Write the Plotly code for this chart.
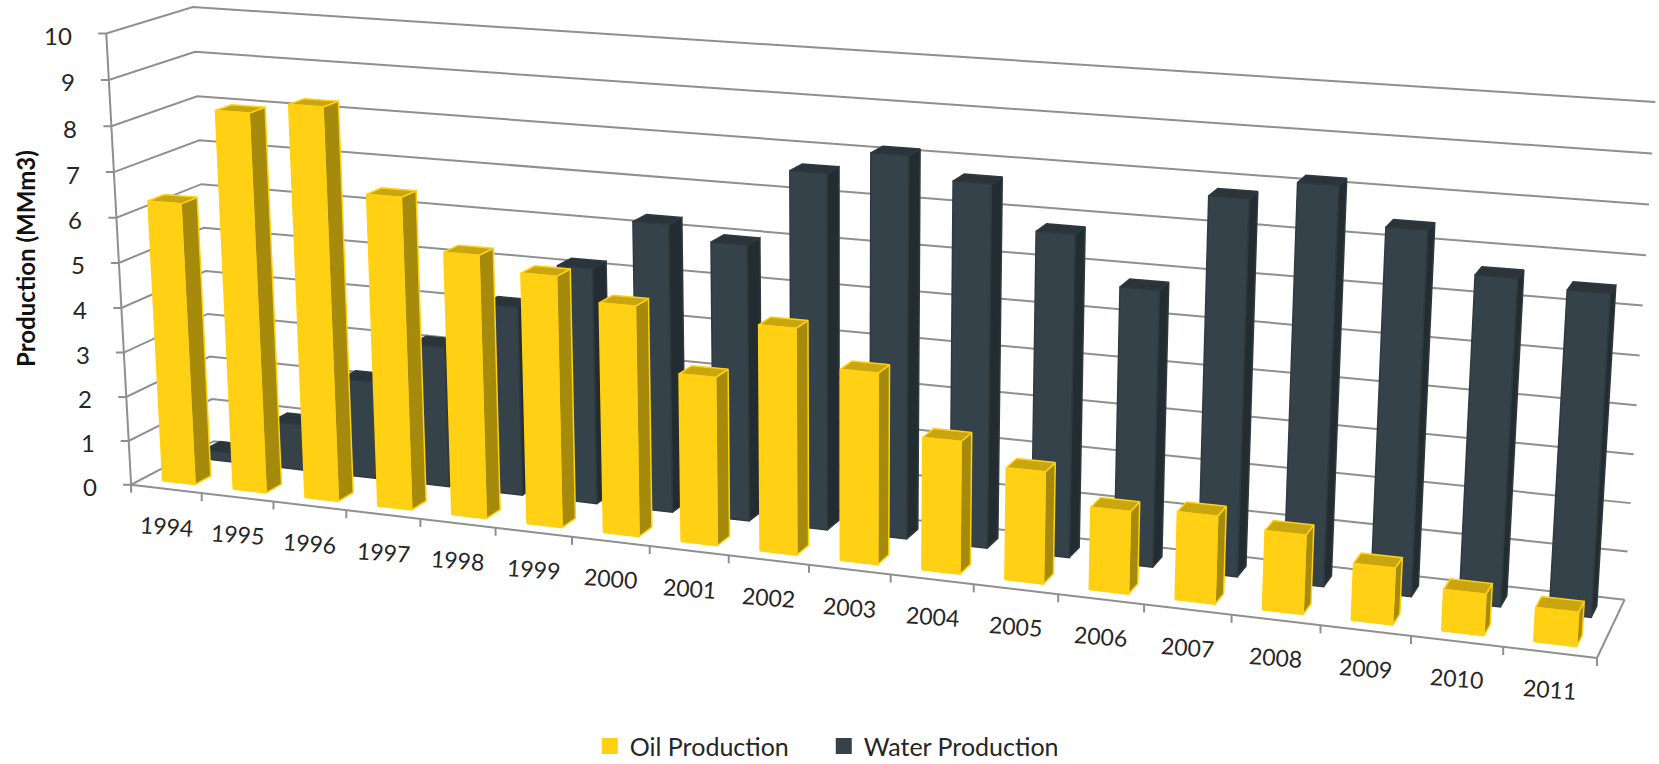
import numpy as np
import plotly.graph_objects as go

years = ["1994","1995","1996","1997","1998","1999","2000","2001","2002","2003","2004","2005","2006","2007","2008","2009","2010","2011"]
oil_production = [6.3,8.4,8.65,6.85,5.75,5.45,4.97,3.62,4.82,4.05,2.8,2.35,1.72,1.82,1.63,1.16,0.84,0.69]
water_production = [0.2,1.05,2.2,3.15,4.2,5.2,6.3,6.0,7.65,8.15,7.7,6.8,5.8,7.8,8.2,7.45,6.65,6.5]
value_ticks = [0,1,2,3,4,5,6,7,8,9,10]

OIL = dict(front="#FFD013", side="#A68A0C", top="#C9A50F", line="#FFD013")
WATER = dict(front="#36424A", side="#232D31", top="#2A343A", line="#2F3A40")
GRID = "#8F8F8F"
TEXT = "#262626"

# Camera calibration: (category, depth, value) -> page position
anchors = [
    ((0,0,0),(132,483)),((0,0,10),(106,33)),((0,0,9),(108,80)),((0,0,8),(112,126)),((0,0,7),(114,172)),
    ((0,0,6),(117,217)),((0,0,5),(119,263)),((0,0,4),(121,307)),((0,0,3),(123,352)),((0,0,2),(126,397)),((0,0,1),(129,441)),
    ((0,1,10),(193,7)),((0,1,9),(195,52)),((0,1,8),(197,97)),((0,1,7),(200,141)),((0,1,6),(202,184)),
    ((0,1,5),(203,228)),((0,1,4),(207,271)),((0,1,3),(207,314)),((0,1,2),(208,357)),((0,1,1),(212,398)),
    ((18,1,0),(1625,598)),((18,1,10),(1655,102)),((18,1,9),(1652,153)),((18,1,8),(1649,205)),((18,1,7),(1646,255)),
    ((18,1,6),(1643,306)),((18,1,5),(1640,356)),((18,0,0),(1597,657)),
    ((1,0,0),(202,493)),((2,0,0),(274,503)),((3,0,0),(347,512)),((4,0,0),(420,520)),((5,0,0),(495,527)),
    ((15,0,0),(1320,626)),((16,0,0),(1411,637)),((17,0,0),(1503,647)),
]
rows = []
for (u,d,z),(px,py) in anchors:
    X = [u,d,z,1]
    rows.append(X+[0,0,0,0]+[-px*c for c in X])
    rows.append([0,0,0,0]+X+[-py*c for c in X])
P = np.linalg.svd(np.array(rows,float))[2][-1].reshape(3,4)

def proj(u,d,z):
    a = P @ np.array([u,d,z,1.0])
    return a[0]/a[2], a[1]/a[2]

U0, U1 = 0.28, 0.74
DEPTHS = dict(oil=(0.14,0.33), water=(0.64,0.84))

def polys(faces):
    xs, ys = [], []
    for f in faces:
        pts = [proj(*p) for p in f]
        pts.append(pts[0])
        xs += [p[0] for p in pts]+[None]
        ys += [p[1] for p in pts]+[None]
    return xs, ys

def bar_traces(values, depth, style, name):
    d0, d1 = depth
    side, top, front = [], [], []
    for i,v in enumerate(values):
        a, b = i+U0, i+U1
        side.append([(b,d0,0),(b,d1,0),(b,d1,v),(b,d0,v)])
        top.append([(a,d0,v),(b,d0,v),(b,d1,v),(a,d1,v)])
        front.append([(a,d0,0),(b,d0,0),(b,d0,v),(a,d0,v)])
    out = []
    for faces,key in ((side,"side"),(top,"top"),(front,"front")):
        xs, ys = polys(faces)
        out.append(go.Scatter(x=xs,y=ys,mode="lines",fill="toself",fillcolor=style[key],
                              line=dict(color=style["line"],width=1.5),
                              showlegend=False,hoverinfo="skip",name=f"{name} {key}"))
    return out

fig = go.Figure()
gx, gy = [], []
TICK = 8
for z in value_ticks:
    fl, bl, br = proj(0,0,z), proj(0,1,z), proj(18,1,z)
    gx += [fl[0]-TICK, fl[0], bl[0], br[0], None]
    gy += [fl[1], fl[1], bl[1], br[1], None]
# left axis, front edge, right edge
for a,b in (((0,0,0),(0,0,10)),((0,0,0),(18,0,0)),((18,0,0),(18,1,0))):
    p,q = proj(*a),proj(*b)
    gx += [p[0],q[0],None]; gy += [p[1],q[1],None]
for i in range(19):
    p = proj(i,0,0)
    gx += [p[0],p[0],None]; gy += [p[1],p[1]+TICK,None]
fig.add_trace(go.Scatter(x=gx,y=gy,mode="lines",line=dict(color=GRID,width=2),showlegend=False,hoverinfo="skip",name="grid"))

for t in bar_traces(water_production,DEPTHS["water"],WATER,"Water"): fig.add_trace(t)
for t in bar_traces(oil_production,DEPTHS["oil"],OIL,"Oil"): fig.add_trace(t)

for nm,c in (("Oil Production",OIL["front"]),("Water Production",WATER["front"])):
    fig.add_trace(go.Scatter(x=[None],y=[None],mode="markers",name=nm,
                             marker=dict(symbol="square",size=17,color=c)))

ann = []
for z in value_ticks:
    p = proj(0,0,z)
    ann.append(dict(x=p[0]-32,y=p[1]+2,text=str(z),xanchor="right",yanchor="middle",showarrow=False,
                    font=dict(size=24,color=TEXT,family="Lato")))
for i,y in enumerate(years):
    p = proj(i+0.5,0,0)
    ann.append(dict(x=p[0],y=p[1]+37,text=y,xanchor="center",yanchor="middle",showarrow=False,textangle=4,
                    font=dict(size=23,color=TEXT,family="Lato")))
ann.append(dict(x=25,y=259,text="<b>Production (MMm3)</b>",textangle=-90,xanchor="center",yanchor="middle",showarrow=False,
                font=dict(size=24,color="#111111",family="Lato")))

fig.update_layout(
    width=1659,height=764,margin=dict(l=0,r=0,t=0,b=0,autoexpand=False),
    paper_bgcolor="white",plot_bgcolor="white",
    xaxis=dict(range=[0,1659],visible=False,fixedrange=True),
    yaxis=dict(range=[764,0],visible=False,fixedrange=True),
    annotations=ann,
    legend=dict(orientation="h",x=0.3555,y=-0.007,xanchor="left",yanchor="bottom",entrywidth=189,entrywidthmode="pixels",
                font=dict(size=25,color="#262626",family="Lato"),bgcolor="rgba(0,0,0,0)"),
)
fig.write_html("out.html",post_script="document.body.style.margin='0';document.body.style.overflow='hidden';",config={"displayModeBar":False})
